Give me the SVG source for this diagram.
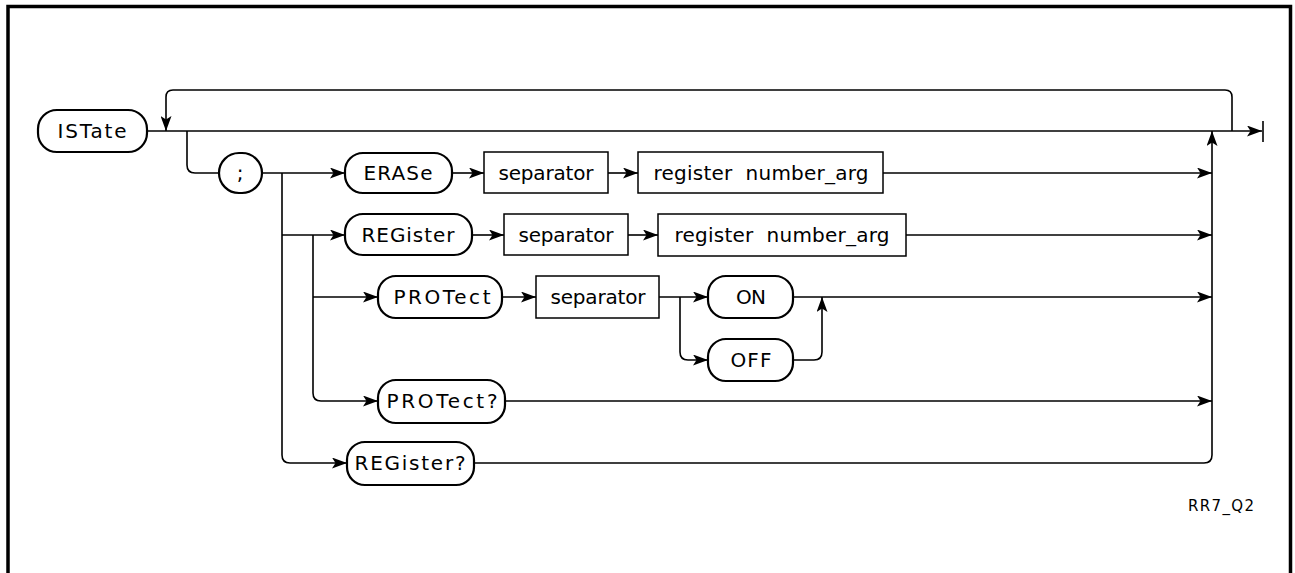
<svg xmlns="http://www.w3.org/2000/svg" width="1295" height="573" viewBox="0 0 1295 573">
<style>
.bg{fill:#fff}
.frame{fill:none;stroke:#000;stroke-width:3.5}
.term rect{fill:#fff;stroke:#000;stroke-width:2.2}
.nt rect{fill:#fff;stroke:#000;stroke-width:1.5}
text{font-family:"DejaVu Sans","Liberation Sans",sans-serif;font-size:20px;fill:#000;text-anchor:middle;dominant-baseline:central}
.small{font-size:15px}
.c{fill:none;stroke:#000;stroke-width:1.6}
</style>
<defs>
<marker id="ah" viewBox="0 0 15 11" refX="15" refY="5.5" markerWidth="15" markerHeight="11" orient="auto" markerUnits="userSpaceOnUse">
<path d="M0,0 L15,5.5 L0,11 L3.5,5.5 z" fill="#000"/>
</marker>
</defs>
<rect class="bg" x="0" y="0" width="1295" height="573"/>
<path class="frame" d="M8,573 V6.5 H1290.5 V573"/>

<g id="connectors">
<path class="c" d="M147,131 H1262" marker-end="url(#ah)"/>
<path class="c" d="M1263,121 V142" stroke-width="2"/>
<path class="c" d="M1232,131 V97 Q1232,90 1225,90 H173 Q166,90 166,97 V131" marker-end="url(#ah)"/>
<path class="c" d="M187,131 V165 Q187,173 195,173 H219"/>
<path class="c" d="M262,173 H345" marker-end="url(#ah)"/>
<path class="c" d="M452,173 H484" marker-end="url(#ah)"/>
<path class="c" d="M608,173 H638" marker-end="url(#ah)"/>
<path class="c" d="M883,173 H1212" marker-end="url(#ah)"/>
<path class="c" d="M282,173 V455 Q282,463 290,463 H347" marker-end="url(#ah)"/>
<path class="c" d="M282,235 H345" marker-end="url(#ah)"/>
<path class="c" d="M472,235 H504" marker-end="url(#ah)"/>
<path class="c" d="M628,235 H658" marker-end="url(#ah)"/>
<path class="c" d="M906,235 H1212" marker-end="url(#ah)"/>
<path class="c" d="M313,235 V393 Q313,401 321,401 H378" marker-end="url(#ah)"/>
<path class="c" d="M313,297 H378" marker-end="url(#ah)"/>
<path class="c" d="M502,297 H536" marker-end="url(#ah)"/>
<path class="c" d="M659,297 H708" marker-end="url(#ah)"/>
<path class="c" d="M680,297 V352 Q680,360 688,360 H708" marker-end="url(#ah)"/>
<path class="c" d="M793,297 H1212" marker-end="url(#ah)"/>
<path class="c" d="M793,360 H814 Q822,360 822,352 V297" marker-end="url(#ah)"/>
<path class="c" d="M505,401 H1212" marker-end="url(#ah)"/>
<path class="c" d="M474,463 H1204 Q1212,463 1212,455 V131" marker-end="url(#ah)"/>
</g>

<g id="istate" class="term"><rect x="38" y="110" width="109" height="42" rx="19"/><text x="92" y="131" textLength="69">ISTate</text></g>
<g id="semicolon" class="term"><rect x="219" y="153" width="43" height="40" rx="20"/><text x="240" y="173">;</text></g>
<g id="erase" class="term"><rect x="345" y="153" width="107" height="40" rx="18"/><text x="398" y="173" textLength="69">ERASe</text></g>
<g id="sep1" class="nt"><rect x="484" y="152" width="124" height="41"/><text x="546" y="173" textLength="95">separator</text></g>
<g id="reg1" class="nt"><rect x="638" y="152" width="245" height="41"/><text x="761" y="173" textLength="215" xml:space="preserve">register  number_arg</text></g>
<g id="register" class="term"><rect x="345" y="214" width="127" height="41" rx="18"/><text x="408" y="235" textLength="93">REGister</text></g>
<g id="sep2" class="nt"><rect x="504" y="214" width="124" height="41"/><text x="566" y="235" textLength="95">separator</text></g>
<g id="reg2" class="nt"><rect x="658" y="214" width="248" height="42"/><text x="782" y="235" textLength="215" xml:space="preserve">register  number_arg</text></g>
<g id="protect" class="term"><rect x="378" y="276" width="124" height="42" rx="18"/><text x="442" y="297" textLength="97">PROTect</text></g>
<g id="sep3" class="nt"><rect x="536" y="276" width="123" height="42"/><text x="598" y="297" textLength="95">separator</text></g>
<g id="on" class="term"><rect x="708" y="276" width="85" height="42" rx="18"/><text x="751" y="297" textLength="30">ON</text></g>
<g id="off" class="term"><rect x="708" y="339" width="85" height="42" rx="18"/><text x="751" y="360" textLength="41">OFF</text></g>
<g id="protectq" class="term"><rect x="378" y="380" width="127" height="43" rx="18"/><text x="442" y="401" textLength="111">PROTect?</text></g>
<g id="registerq" class="term"><rect x="347" y="442" width="127" height="43" rx="18"/><text x="410" y="463" textLength="111">REGister?</text></g>
<g id="label"><text class="small" x="1221" y="506" textLength="66">RR7_Q2</text></g>
</svg>
